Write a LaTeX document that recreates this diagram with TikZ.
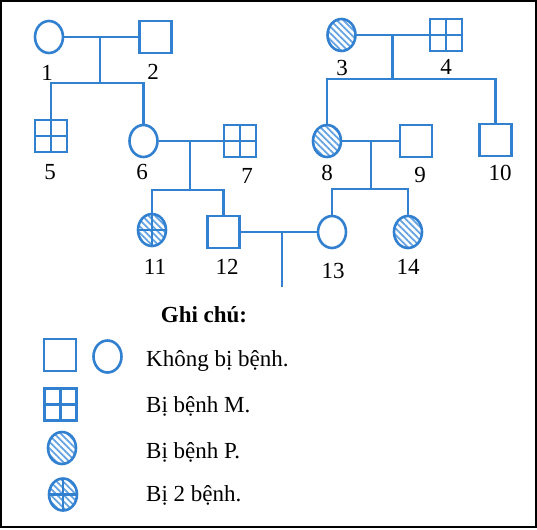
\documentclass[tikz,border=0pt]{standalone}
\usepackage{fontspec}
\setmainfont{Liberation Serif}
\usetikzlibrary{
    shapes.geometric,
    patterns.meta,
    positioning
}
\definecolor{pedblue}{RGB}{50,128,208}
\definecolor{hatchblue}{RGB}{100,162,226}

\begin{document}
\begin{tikzpicture}[
        x=1pt, y=-1pt,
        male/.style={rectangle, draw=pedblue, line width=2.6pt, minimum size=32pt, inner sep=0pt},
        female/.style={ellipse, draw=pedblue, line width=2.6pt, minimum width=28pt, minimum height=32pt, inner sep=0pt},
        sickM/.style={path picture={\draw[pedblue, line width=2.3pt] (path picture bounding box.north) -- (path picture bounding box.south) (path picture bounding box.west) -- (path picture bounding box.east);}},
        sickP/.style={pattern={Lines[angle=-45, distance=4.6pt, line width=1.8pt]}, pattern color=hatchblue},
        num/.style={font=\fontsize{23}{27}\selectfont, inner sep=0pt},
        legtext/.style={font=\fontsize{23}{27}\selectfont, anchor=base west, inner sep=0pt},
        conn/.style={draw=pedblue, line width=2.6pt}
    ]
        \useasboundingbox (0,0) rectangle (537,529);
        \draw[line width=2pt] (1,1) rectangle (536,527);

        % Generation I
        \node[female] (p1) at (49,37) {};
        \node[male] (p2) at (155.5,37) {};
        \node[female, sickP] (p3) at (341.5,35) {};
        \node[male, sickM] (p4) at (446,35) {};

        % Generation II
        \node[male, sickM] (p5) at (51,136) {};
        \node[female] (p6) at (143.5,141) {};
        \node[male, sickM] (p7) at (240,141) {};
        \node[female, sickP] (p8) at (327,141) {};
        \node[male] (p9) at (416,141) {};
        \node[male] (p10) at (495.5,140) {};

        % Generation III
        \node[female, sickP, sickM] (p11) at (152,230) {};
        \node[male] (p12) at (223.5,232) {};
        \node[female] (p13) at (332,232) {};
        \node[female, sickP] (p14) at (408,232) {};

        % Numbers
        \node[num] (l1) at (47,73) {1};
        \node[num] (l2) at (153,72) {2};
        \node[num] (l3) at (342,68) {3};
        \node[num] (l4) at (446,67) {4};
        \node[num] (l5) at (50,172) {5};
        \node[num] (l6) at (142,172) {6};
        \node[num] (l7) at (247,176) {7};
        \node[num] (l8) at (327,173) {8};
        \node[num] (l9) at (420,175) {9};
        \node[num] (l10) at (500,173) {10};
        \node[num] (l11) at (155,267) {11};
        \node[num] (l12) at (227,267) {12};
        \node[num] (l13) at (333,271) {13};
        \node[num] (l14) at (408,267) {14};

        % Marriages and children
        \coordinate (m12) at (100,37);
        \coordinate (c12) at (100,83);
        \coordinate (m34) at (392.5,35);
        \coordinate (c34) at (392.5,79);
        \coordinate (m67) at (190,141);
        \coordinate (c67) at (190,190);
        \coordinate (m89) at (371,141);
        \coordinate (c89) at (371,189);
        \coordinate (m1213) at (282,232);
        \coordinate (e1213) at (282,287);

        \draw[conn] (p1) -- (p2);
        \draw[conn] (m12) -- (c12);
        \draw[conn] (p5) |- (c12) -| (p6);
        \draw[conn] (p3) -- (p4);
        \draw[conn] (m34) -- (c34);
        \draw[conn] (p8) |- (c34) -| (p10);
        \draw[conn] (p6) -- (p7);
        \draw[conn] (m67) -- (c67);
        \draw[conn] (p11) |- (c67) -| (p12);
        \draw[conn] (p8) -- (p9);
        \draw[conn] (m89) -- (c89);
        \draw[conn] (p13) |- (c89) -| (p14);
        \draw[conn] (p12) -- (p13);
        \draw[conn] (m1213) -- (e1213);

        % Legend
        \node[font=\fontsize{23}{27}\selectfont\bfseries, inner sep=0pt] (note) at (204,315) {Ghi chú:};
        \node[male] (kmale) at (60,355) {};
        \node[female] (kfemale) at (107.5,356.5) {};
        \node[male, sickM] (kM) at (60.5,404.5) {};
        \node[female, sickP] (kP) at (62,448) {};
        \node[female, sickP, sickM] (kMP) at (63,494.5) {};
        \node[legtext] (t1) at (146,366.5) {Không bị bệnh.};
        \node[legtext] (t2) at (146,412.5) {Bị bệnh M.};
        \node[legtext] (t3) at (146,458) {Bị bệnh P.};
        \node[legtext] (t4) at (146,501.5) {Bị 2 bệnh.};
    \end{tikzpicture}
\end{document}
